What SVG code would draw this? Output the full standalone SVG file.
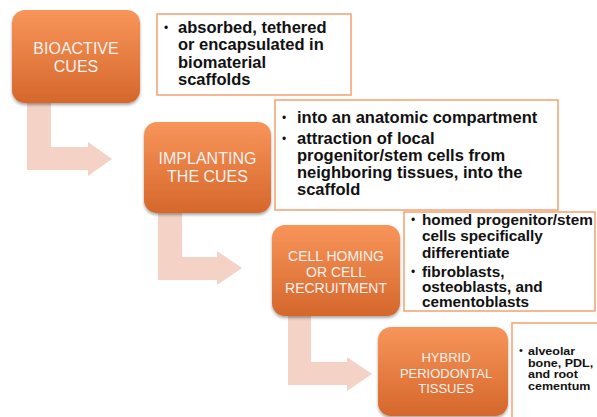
<svg xmlns="http://www.w3.org/2000/svg" width="597" height="417" viewBox="0 0 597 417">
  <defs>
    <linearGradient id="og" x1="0" y1="0" x2="0" y2="1">
      <stop offset="0" stop-color="#f8955a"/>
      <stop offset="1" stop-color="#d5672b"/>
    </linearGradient>
    <filter id="sh" x="-10%" y="-10%" width="125%" height="130%">
      <feGaussianBlur in="SourceAlpha" stdDeviation="1.5"/>
      <feOffset dx="0" dy="2" result="b"/>
      <feComponentTransfer><feFuncA type="linear" slope="0.35"/></feComponentTransfer>
      <feMerge><feMergeNode/><feMergeNode in="SourceGraphic"/></feMerge>
    </filter>
    <style>
      .step { fill: url(#og); filter: url(#sh); }
      .stxt { font-family: "Liberation Sans", Arial, sans-serif; fill: #f4f1ee; text-anchor: middle; }
      .box { fill: #ffffff; stroke: #f2a071; stroke-width: 1.5; }
      .btxt { font-family: "Liberation Sans", Arial, sans-serif; font-weight: bold; fill: #111111; }
      .bul { font-family: "Liberation Sans", Arial, sans-serif; fill: #111111; }
      .arr { fill: #f4d2c6; }
    </style>
  </defs>
  <rect width="597" height="417" fill="#ffffff"/>

  <g id="connectors">
    <path class="arr" d="M27,103 H51 V147 H88 V142 L112,159 L88,176 V170 H27 Z"/>
    <path class="arr" d="M158,213 H182 V257 H217 V251 L242,268 L217,285 V280 H158 Z"/>
    <path class="arr" d="M288,316 H311 V362 H347 V357 L372,374 L347,391 V385 H288 Z"/>
  </g>

  <g id="node-bioactive">
    <rect class="step" x="12" y="10" width="128" height="93" rx="13"/>
    <text class="stxt" font-size="16" x="76" y="53.5">BIOACTIVE</text>
    <text class="stxt" font-size="16" x="76" y="71.5">CUES</text>
  </g>
  <g id="text-bioactive">
    <rect class="box" x="157" y="14" width="194" height="81"/>
    <text class="bul" font-size="12" x="164" y="32">•</text>
    <text class="btxt" font-size="16.5">
      <tspan x="178" y="33">absorbed, tethered</tspan>
      <tspan x="178" y="50.3">or encapsulated  in</tspan>
      <tspan x="178" y="67.6">biomaterial</tspan>
      <tspan x="178" y="85">scaffolds</tspan>
    </text>
  </g>

  <g id="node-implanting">
    <rect class="step" x="144" y="122" width="127" height="91" rx="13"/>
    <text class="stxt" font-size="16" x="207.5" y="164">IMPLANTING</text>
    <text class="stxt" font-size="16" x="207.5" y="182">THE CUES</text>
  </g>
  <g id="text-implanting">
    <rect class="box" x="275" y="100" width="283" height="110"/>
    <text class="bul" font-size="12" x="282" y="121.5">•</text>
    <text class="bul" font-size="12" x="282" y="143">•</text>
    <text class="btxt" font-size="16.5">
      <tspan x="297" y="122.5">into an anatomic  compartment</tspan>
      <tspan x="297" y="144">attraction of local</tspan>
      <tspan x="297" y="161.3">progenitor/stem  cells from</tspan>
      <tspan x="297" y="178.3">neighboring  tissues, into the</tspan>
      <tspan x="297" y="195.3">scaffold</tspan>
    </text>
  </g>

  <g id="node-homing">
    <rect class="step" x="272" y="225" width="128" height="91" rx="13"/>
    <text class="stxt" font-size="14" x="336" y="261">CELL HOMING</text>
    <text class="stxt" font-size="14" x="336" y="277">OR CELL</text>
    <text class="stxt" font-size="14" x="336" y="293">RECRUITMENT</text>
  </g>
  <g id="text-homing">
    <rect class="box" x="404" y="212" width="191" height="99"/>
    <text class="bul" font-size="12" x="411" y="224">•</text>
    <text class="bul" font-size="12" x="411" y="276">•</text>
    <text class="btxt" font-size="15.3">
      <tspan x="422" y="225">homed progenitor/stem</tspan>
      <tspan x="422" y="241.3">cells specifically</tspan>
      <tspan x="422" y="257.6">differentiate</tspan>
      <tspan x="422" y="276.6">fibroblasts,</tspan>
      <tspan x="422" y="292">osteoblasts, and</tspan>
      <tspan x="422" y="307.3">cementoblasts</tspan>
    </text>
  </g>

  <g id="node-hybrid">
    <rect class="step" x="378" y="327" width="130" height="89" rx="13"/>
    <text class="stxt" font-size="13" x="446" y="361.5">HYBRID</text>
    <text class="stxt" font-size="13" x="446" y="377.5">PERIODONTAL</text>
    <text class="stxt" font-size="13" x="446" y="393">TISSUES</text>
  </g>
  <g id="text-hybrid">
    <rect class="box" x="512" y="323" width="100" height="110"/>
    <text class="bul" font-size="11" x="519" y="354">•</text>
    <g transform="translate(528,0) scale(1.25,1)">
      <text class="btxt" font-size="10" x="0" y="355.5">alveolar</text>
      <text class="btxt" font-size="10" x="0" y="367">bone, PDL,</text>
      <text class="btxt" font-size="10" x="0" y="378.5">and root</text>
      <text class="btxt" font-size="10" x="0" y="390">cementum</text>
    </g>
  </g>
</svg>
